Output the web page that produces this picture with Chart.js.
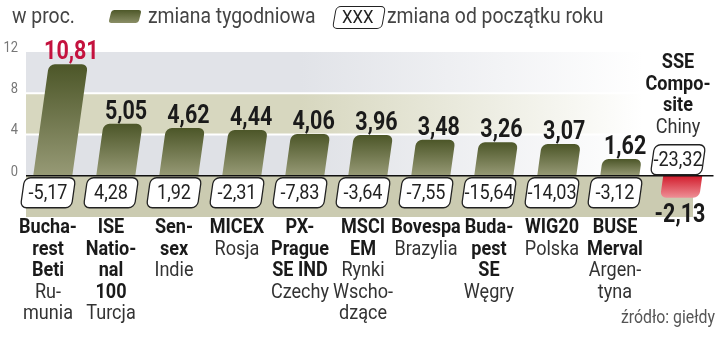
<!DOCTYPE html>
<html lang="pl">
<head>
  <meta charset="UTF-8" />
  <title>Giełdy – zmiana tygodniowa</title>
  <script src="https://cdn.jsdelivr.net/npm/chart.js"></script>
  <style>
    html, body { margin: 0; padding: 0; background: #fff; }
    .wrap { position: relative; width: 720px; height: 338px; overflow: hidden;
      font-family: Roboto, "Noto Sans", sans-serif; color: #444; }
    canvas { position: absolute; left: 0; top: 0; }
    .legend span, .source { position: absolute; white-space: nowrap; transform: scaleX(0.88); transform-origin: 0 50%; }
    .legend span { top: 3px; font-size: 22px; line-height: 26px; }
    .swatch { position: absolute; top: 10px; left: 110px; width: 30px; height: 13px; border-radius: 3px;
      background: linear-gradient(#4e5829, #8a8e66); transform: skewX(-14deg); }
    .xbox { position: absolute; top: 6px; left: 334px; width: 48px; height: 21px; border: 1.3px solid #222;
      border-radius: 5px; transform: skewX(-10deg); }
    .legend .xtxt { top: 4px; left: 342px; font-size: 19px; color: #222; }
    .source { left: 621px; top: 306px; font-size: 18px; line-height: 22px; color: #555; }
  </style>
</head>
<body>
  <div class="wrap">
    <canvas id="chart" width="720" height="338"></canvas>
    <div class="legend">
      <span style="left:12px">w proc.</span>
      <div class="swatch"></div>
      <span style="left:148px">zmiana tygodniowa</span>
      <div class="xbox"></div>
      <span class="xtxt">XXX</span>
      <span style="left:387px">zmiana od początku roku</span>
    </div>
    <div class="source">źródło: giełdy</div>
  </div>

  <script>
    const indexNames = [
      ["Bucha-", "rest", "Beti"],
      ["ISE", "Natio-", "nal", "100"],
      ["Sen-", "sex"],
      ["MICEX"],
      ["PX-", "Prague", "SE IND"],
      ["MSCI", "EM"],
      ["Bovespa"],
      ["Buda-", "pest", "SE"],
      ["WIG20"],
      ["BUSE", "Merval"],
      ["SSE", "Compo-", "site"]
    ];
    const countries = [
      ["Ru-", "munia"],
      ["Turcja"],
      ["Indie"],
      ["Rosja"],
      ["Czechy"],
      ["Rynki", "Wscho-", "dzące"],
      ["Brazylia"],
      ["Węgry"],
      ["Polska"],
      ["Argen-", "tyna"],
      ["Chiny"]
    ];
    const weekly = [10.81, 5.05, 4.62, 4.44, 4.06, 3.96, 3.48, 3.26, 3.07, 1.62, -2.13];
    const sinceJan = [-5.17, 4.28, 1.92, -2.31, -7.83, -3.64, -7.55, -15.64, -14.03, -3.12, -23.32];
    const yTicks = [0, 4, 8, 12];

    const FONT = 'Roboto, "Noto Sans", sans-serif';
    const K = 0.14; // slant of bars and boxes
    const SX = 0.86; // squeeze text to look condensed
    const fmt = v => v.toFixed(2).replace(".", ",");

    function pivotY(chart) {
      return chart.scales.y.getPixelForValue(0) + 34;
    }
    function skew(ctx, py) {
      ctx.transform(1, 0, -K, 1, K * py, 0);
    }
    function text(ctx, s, x, y, font, color) {
      ctx.save();
      ctx.font = font;
      ctx.fillStyle = color;
      ctx.translate(x, y);
      ctx.scale(SX, 1);
      ctx.fillText(s, 0, 0);
      ctx.restore();
    }
    function roundRect(ctx, x, y, w, h, r) {
      ctx.beginPath();
      ctx.moveTo(x + r, y);
      ctx.arcTo(x + w, y, x + w, y + h, r);
      ctx.arcTo(x + w, y + h, x, y + h, r);
      ctx.arcTo(x, y + h, x, y, r);
      ctx.arcTo(x, y, x + w, y, r);
      ctx.closePath();
    }

    const bands = {
      id: "bands",
      beforeDatasetsDraw(chart) {
        const { ctx, chartArea, scales: { y } } = chart;
        const left = 26, right = chartArea.right + 2;
        const fills = [
          [12, 8, "#e1e3e8"],
          [8, 4, "#d7d7bf"],
          [4, 0, "#dfe1e6"]
        ];
        ctx.save();
        fills.forEach(([a, b, c]) => {
          const g = ctx.createLinearGradient(left, 0, right, 0);
          g.addColorStop(0, c);
          g.addColorStop(0.4, c);
          g.addColorStop(0.9, "#ffffff");
          ctx.fillStyle = g;
          ctx.fillRect(left, y.getPixelForValue(a), right - left, y.getPixelForValue(b) - y.getPixelForValue(a));
        });
        ctx.fillStyle = "#cbcbb1";
        ctx.fillRect(left, y.getPixelForValue(0), 693 - left, y.getPixelForValue(-4) - y.getPixelForValue(0));
        ctx.strokeStyle = "#ffffff";
        ctx.lineWidth = 2;
        [8, 4].forEach(v => {
          const py = y.getPixelForValue(v);
          ctx.beginPath(); ctx.moveTo(left, py); ctx.lineTo(right, py); ctx.stroke();
        });
        // tick labels
        ctx.textAlign = "right";
        ctx.textBaseline = "middle";
        yTicks.forEach(v => text(ctx, String(v), 18, y.getPixelForValue(v) - 4, "15px " + FONT, "#777"));
        ctx.restore();
      },
      beforeDatasetDraw(chart) {
        chart.ctx.save();
        skew(chart.ctx, pivotY(chart));
      },
      afterDatasetDraw(chart) {
        chart.ctx.restore();
      },
      afterDatasetsDraw(chart) {
        const { ctx, chartArea, scales: { x, y } } = chart;
        const y0 = y.getPixelForValue(0);
        const py = pivotY(chart);
        ctx.save();
        // zero line
        ctx.strokeStyle = "#111";
        ctx.lineWidth = 1.5;
        ctx.beginPath(); ctx.moveTo(26, y0); ctx.lineTo(chartArea.right + 4, y0); ctx.stroke();

        weekly.forEach((v, i) => {
          const cx = x.getPixelForValue(i);
          const yEnd = y.getPixelForValue(v);
          const neg = v < 0;
          ctx.textAlign = "center";

          // value label
          const valFont = "bold 25px " + FONT;
          const valColor = i === 0 ? "#c4123e" : "#1a1a1a";
          if (!neg) {
            ctx.textBaseline = "alphabetic";
            text(ctx, fmt(v), cx + K * (py - yEnd) + 3, yEnd - 5, valFont, valColor);
          } else {
            ctx.textBaseline = "top";
            text(ctx, fmt(v), cx + 2, yEnd + 6, valFont, valColor);
          }

          // since-January box
          const bw = 51, bh = 30;
          const by = neg ? y0 - bh - 1 : y0 + 2;
          ctx.save();
          skew(ctx, by + bh / 2);
          roundRect(ctx, cx - bw / 2, by, bw, bh, 6);
          ctx.fillStyle = "#fff";
          ctx.fill();
          ctx.strokeStyle = "#222";
          ctx.lineWidth = 1.3;
          ctx.stroke();
          ctx.restore();
          ctx.textBaseline = "middle";
          text(ctx, fmt(sinceJan[i]), cx, by + bh / 2 + 1, "21px " + FONT, "#222");

          // category labels
          const lh = 21.5;
          let ly = neg ? 63 : 228;
          indexNames[i].forEach(t => {
            text(ctx, t, cx, ly, "bold 21px " + FONT, "#1a1a1a");
            ly += lh;
          });
          countries[i].forEach(t => {
            text(ctx, t, cx, ly, "21px " + FONT, "#333");
            ly += lh;
          });
        });
        ctx.restore();
      }
    };

    function barFill(context) {
      const chart = context.chart;
      if (!chart.chartArea) return "#6b7040";
      const v = context.raw;
      const y = chart.scales.y;
      const yTop = y.getPixelForValue(Math.max(v, 0));
      const yBot = y.getPixelForValue(Math.min(v, 0));
      const g = chart.ctx.createLinearGradient(0, yTop, 0, yBot);
      if (v >= 0) {
        g.addColorStop(0, "#4c5628");
        g.addColorStop(1, "#979a76");
      } else {
        g.addColorStop(0, "#d21c2c");
        g.addColorStop(1, "#ee8f96");
      }
      return g;
    }

    new Chart(document.getElementById("chart").getContext("2d"), {
      type: "bar",
      data: {
        labels: indexNames.map(n => n.join(" ")),
        datasets: [{
          data: weekly,
          backgroundColor: barFill,
          borderWidth: 0,
          borderRadius: 6,
          borderSkipped: "start",
          barPercentage: 0.62,
          categoryPercentage: 1,
          clip: false
        }]
      },
      options: {
        responsive: false,
        devicePixelRatio: 1,
        animation: false,
        layout: { padding: { left: 16.5, right: 10.5, top: 52, bottom: 121 } },
        scales: {
          x: { display: false },
          y: { display: false, min: -4, max: 12 }
        },
        plugins: {
          legend: { display: false },
          tooltip: { enabled: false }
        }
      },
      plugins: [bands]
    });
  </script>
</body>
</html>
